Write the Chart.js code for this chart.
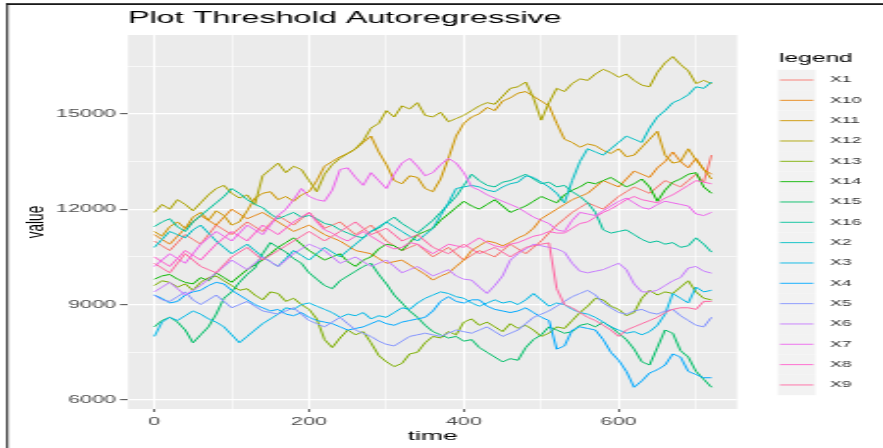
<!DOCTYPE html>
<html>
<head>
<meta charset="utf-8">
<script src="https://cdn.jsdelivr.net/npm/chart.js@4.4.1/dist/chart.umd.min.js"></script>
<style>
  html, body { margin: 0; padding: 0; background: #fff; }
</style>
</head>
<body>
<!-- drawn at 450px wide and stretched to 883px, like the reference -->
<canvas id="c" width="450" height="448" style="width:883px;height:448px"></canvas>
<script>
const time = [
  0, 10, 20, 30, 40, 50, 60, 70, 80, 90,
  100, 110, 120, 130, 140, 150, 160, 170, 180, 190,
  200, 210, 220, 230, 240, 250, 260, 270, 280, 290,
  300, 310, 320, 330, 340, 350, 360, 370, 380, 390,
  400, 410, 420, 430, 440, 450, 460, 470, 480, 490,
  500, 510, 520, 530, 540, 550, 560, 570, 580, 590,
  600, 610, 620, 630, 640, 650, 660, 670, 680, 690,
  700, 710, 720
];

const X1 = [
  11000, 10850, 10700, 10950, 11200, 11050, 10900, 11200, 11500, 11350,
  11200, 11400, 11600, 11450, 11300, 11550, 11800, 11650, 11500, 11700,
  11900, 11650, 11400, 11500, 11600, 11400, 11200, 11350, 11500, 11250,
  11000, 10850, 10700, 10800, 10900, 10700, 10500, 10650, 10800, 10600,
  10400, 10550, 10700, 10600, 10500, 10700, 10900, 10750, 10600, 10800,
  11000, 11250, 11500, 11700, 11900, 12050, 12200, 12100, 12000, 12200,
  12400, 12550, 12700, 12600, 12500, 12700, 12900, 12800, 12700, 12900,
  13100, 12850, 13700
];
const X10 = [
  11200, 11050, 10900, 11150, 11400, 11600, 11800, 11650, 11500, 11750,
  12000, 11850, 11700, 11800, 11900, 11750, 11600, 11450, 11300, 11400,
  11500, 11350, 11200, 11100, 11000, 10850, 10700, 10650, 10600, 10450,
  10300, 10350, 10400, 10250, 10100, 9950, 9770, 9900, 9990, 10200,
  10400, 10700, 10850, 11000, 10950, 10850, 10950, 11100, 11200, 11400,
  11700, 11850, 12000, 12150, 12300, 12400, 12500, 12700, 12900, 12800,
  12700, 12950, 13200, 13100, 13000, 13300, 13500, 13800, 13500, 13300,
  13600, 13250, 13100
];
const X11 = [
  11300, 11150, 11450, 11600, 11400, 11750, 11900, 11650, 11950, 11800,
  11500, 11600, 11950, 12350, 12500, 12550, 12300, 12400, 12250, 12450,
  12550, 12900, 13350, 13500, 13650, 13750, 13900, 14100, 14300, 13800,
  13400, 12900, 12800, 13050, 13000, 12650, 12550, 12950, 13600, 14300,
  14700, 14900, 15000, 15200, 15100, 15400, 15500, 15650, 15700, 15550,
  15400, 15250, 14700, 14200, 14100, 13950, 14050, 14000, 13850, 13750,
  13900, 13650, 13700, 13950, 14200, 14450, 13700, 13450, 13500, 13900,
  13550, 13250, 12950
];
const X12 = [
  11900, 12150, 12000, 12300, 12150, 11950, 12200, 12450, 12650, 12750,
  12500, 12350, 12450, 12150, 13050, 13250, 13450, 13150, 13350, 13250,
  12900, 12550, 13100, 13400, 13600, 13750, 13900, 14150, 14550, 14700,
  15100, 14900, 15250, 15150, 15350, 14950, 14900, 15050, 14750, 14850,
  14950, 15100, 15250, 15350, 15300, 15550, 15800, 15850, 16000, 15500,
  14800, 15350, 15800, 15700, 15950, 16100, 16050, 16250, 16400, 16300,
  16150, 16250, 16050, 15900, 15850, 16300, 16600, 16800, 16550, 16350,
  15950, 16050, 15950
];
const X13 = [
  9600, 9750, 9700, 9550, 9650, 9450, 9700, 9850, 9900, 9750,
  9600, 9450, 9500, 9300, 9150, 9400, 9350, 9100, 9200, 9000,
  8850, 8550, 7900, 7650, 7950, 8200, 8050, 8150, 7800, 7400,
  7200, 7050, 7150, 7450, 7500, 7800, 8000, 7950, 8150, 8050,
  8450, 8550, 8350, 8450, 8300, 8150, 8400, 8250, 8350, 8200,
  8000, 8100, 8300, 8250, 8500, 8750, 8950, 9200, 9150, 8950,
  8850, 8650, 8750, 9200, 9450, 9300, 9400, 9350, 9550, 9750,
  9400, 9200, 9150
];
const X14 = [
  9800, 9900, 9950, 9800, 9700, 9650, 9850, 9750, 10000, 9850,
  9700, 9900, 10100, 10250, 10400, 10600, 10800, 10950, 11100, 10900,
  10700, 10550, 10400, 10500, 10600, 10350, 10200, 10400, 10500, 10750,
  10900, 10850, 10700, 10950, 11200, 11300, 11400, 11650, 11850, 12050,
  12250, 12100, 12000, 12150, 12300, 12100, 11900, 12000, 12100, 12250,
  12400, 12300, 12200, 12450, 12600, 12700, 12850, 12800, 12900, 13000,
  12850, 12700, 12800, 12950, 12700, 12250, 12600, 12850, 12950, 13100,
  13150, 12700, 12500
];
const X15 = [
  8300, 8500, 8600, 8450, 8200, 7800, 8050, 8300, 8700, 9200,
  9400, 9700, 9950, 10150, 10600, 10950, 10800, 10650, 10450, 10300,
  10000, 9800, 9600, 9500, 9750, 9900, 10050, 10200, 10300, 9950,
  9650, 9300, 9050, 8800, 8600, 8350, 8150, 8050, 7950, 8000,
  7850, 7900, 7650, 7500, 7350, 7200, 7300, 7250, 7650, 7900,
  8050, 8300, 8200, 8100, 8150, 8350, 8400, 8300, 8450, 8300,
  8100, 7900, 7600, 7200, 7100, 7650, 8200, 8100, 7550, 7350,
  6900, 6650, 6400
];
const X16 = [
  11450, 11600, 11700, 11450, 11300, 11600, 11800, 12000, 12200, 12400,
  12650, 12500, 12300, 12150, 12050, 11850, 11700, 11800, 11900, 11750,
  11800, 11700, 11550, 11500, 11350, 11250, 11150, 11100, 11300, 11400,
  11600, 11750, 11550, 11400, 11250, 11450, 11650, 11900, 12150, 12400,
  12750, 13100, 12900, 12750, 12700, 12850, 12900, 13000, 13100, 12950,
  12800, 12850, 12700, 12750, 12550, 12400, 12200, 11900, 11350, 11250,
  11300, 11350, 11200, 11050, 10950, 11000, 10900, 10950, 10800, 10850,
  11100, 10900, 10650
];
const X2 = [
  10800, 11050, 11300, 11200, 11100, 11350, 11500, 11250, 11000, 10800,
  10600, 10750, 10900, 10700, 10500, 10350, 10200, 10450, 10700, 10550,
  10400, 10600, 10800, 10650, 10500, 10700, 10900, 11100, 11300, 11450,
  11600, 11450, 11300, 11150, 11000, 11200, 11400, 11800, 12200, 12650,
  12700, 12750, 12700, 12600, 12550, 12700, 12800, 12850, 13050, 13000,
  12850, 12700, 12500, 12200, 12900, 13500, 13900, 13800, 13700, 13900,
  14100, 14300, 14200, 14100, 14550, 14900, 15100, 15350, 15450, 15600,
  15850, 15800, 16000
];
const X3 = [
  8000, 8450, 8600, 8500, 8650, 8800, 8700, 8550, 8450, 8300,
  8050, 7800, 8000, 8200, 8400, 8550, 8700, 8900, 8850, 9000,
  9050, 8950, 8850, 8750, 8600, 8700, 8650, 8750, 8550, 8650,
  8600, 8750, 8900, 8850, 9050, 9200, 9300, 9400, 9350, 9250,
  9200, 9050, 8950, 9050, 9150, 9050, 9100, 9000, 9150, 9350,
  9150, 8950, 9050, 9000, 8850, 8750, 8700, 8600, 8450, 8300,
  8200, 8100, 8150, 8050, 8150, 8350, 8700, 9350, 9200, 9050,
  9550, 9400, 9450
];
const X4 = [
  9300, 9200, 9050, 9100, 9300, 9400, 9450, 9600, 9700, 9650,
  9450, 9300, 9150, 9000, 8900, 8800, 8850, 8700, 8650, 8750,
  8600, 8500, 8450, 8400, 8300, 8200, 8250, 8300, 8400, 8500,
  8400, 8350, 8450, 8500, 8550, 8600, 8800, 9100, 9250, 9100,
  9050, 9150, 9150, 8950, 8850, 8800, 8750, 8800, 8900, 8750,
  8600, 8500, 7600, 7700, 8200, 8300, 8250, 8200, 7900, 7500,
  7250, 6900, 6400, 6600, 6850, 6950, 7100, 7450, 7350, 6900,
  6800, 6700, 6700
];
const X5 = [
  9300, 9150, 9100, 9250, 9400, 9150, 9000, 9150, 9300, 9100,
  8900, 9000, 9100, 8950, 8800, 8750, 8700, 8800, 8900, 8700,
  8500, 8400, 8300, 8450, 8600, 8400, 8200, 8100, 8000, 7850,
  7750, 7700, 7850, 8000, 8050, 8100, 8050, 8000, 8100, 8200,
  8150, 8100, 8200, 8300, 8150, 8000, 8100, 8200, 8400, 8600,
  8700, 8800, 8950, 9100, 9250, 9350, 9450, 9300, 9050, 8900,
  8750, 8700, 8800, 8850, 8750, 8700, 8800, 8850, 8650, 8500,
  8350, 8300, 8600
];
const X6 = [
  9400, 9550, 9700, 9500, 9300, 9450, 9600, 9800, 10000, 10200,
  10400, 10250, 10100, 10300, 10500, 10350, 10200, 10400, 10600, 10750,
  10900, 10800, 10700, 10500, 10300, 10400, 10500, 10350, 10200, 10300,
  10400, 10200, 10000, 10100, 10200, 10050, 9900, 10000, 10100, 9900,
  9800, 9770, 9550, 9350, 9600, 9900, 10400, 10600, 10750, 10900,
  10850, 10800, 10750, 10650, 10300, 10050, 10000, 10050, 10100, 10200,
  10300, 10100, 9650, 9400, 9400, 9450, 9600, 9750, 9850, 10150,
  10200, 10050, 9990
];
const X7 = [
  10200, 10400, 10600, 10450, 10300, 10600, 10900, 11100, 11300, 11150,
  11000, 11250, 11500, 11350, 11200, 11500, 11800, 12000, 12300, 12650,
  12400, 12300, 12250, 12600, 13250, 13300, 13000, 12750, 13150, 12900,
  12650, 13100, 13450, 13600, 13350, 13050, 13150, 13400, 13600, 13450,
  13150, 12700, 12600, 12450, 12350, 12250, 12150, 12050, 11900, 11750,
  11650, 11550, 11350, 11300, 11650, 11900, 11850, 11800, 11950, 12100,
  12250, 12350, 12200, 12050, 12000, 12150, 12250, 12200, 12150, 12100,
  11850, 11800, 11900
];
const X8 = [
  10500, 10350, 10200, 10450, 10700, 10550, 10400, 10650, 10900, 11100,
  11300, 11150, 11000, 11250, 11500, 11350, 11200, 11400, 11600, 11750,
  11900, 11600, 11350, 11250, 11100, 11000, 11150, 11300, 11150, 11000,
  10850, 10750, 10800, 10950, 10900, 10750, 10600, 10750, 10900, 10850,
  10800, 10950, 11100, 10950, 10850, 10800, 10900, 10950, 11050, 11150,
  11200, 11300, 11250, 11250, 11400, 11550, 11600, 11750, 11900, 12000,
  12150, 12300, 12400, 12300, 12250, 12200, 12350, 12450, 12600, 12750,
  12900, 12850, 12800
];
const X9 = [
  10300, 10150, 10000, 10300, 10600, 10400, 10200, 10100, 10000, 10250,
  10500, 10650, 10800, 10600, 10400, 10550, 10700, 10850, 11000, 11150,
  11300, 11150, 11000, 11150, 11300, 11450, 11600, 11400, 11200, 11300,
  11400, 11200, 11000, 11100, 11200, 11000, 10800, 10700, 10600, 10750,
  10900, 10750, 10600, 10700, 10800, 10650, 10500, 10650, 10800, 10850,
  10900, 10940, 9500, 9000, 8900, 8750, 8600, 8500, 8350, 8200,
  8000, 8200, 8300, 8400, 8500, 8600, 8750, 8850, 8900, 8900,
  8850, 9100, 9100
];

// legend order as in the reference (factor levels sorted as text)
const seriesNames = ["X1", "X10", "X11", "X12", "X13", "X14", "X15", "X16",
                     "X2", "X3", "X4", "X5", "X6", "X7", "X8", "X9"];
const seriesValues = [X1, X10, X11, X12, X13, X14, X15, X16,
                      X2, X3, X4, X5, X6, X7, X8, X9];

const xMajor = [0, 200, 400, 600];
const xMinor = [100, 300, 500, 700];
const yMajor = [6000, 9000, 12000, 15000];
const yMinor = [7500, 10500, 13500, 16500];

// ggplot default hue palette (polar Luv, c=100, l=65)
function hcl(h, c, l) {
    const WX = 95.047, WY = 100.0, WZ = 108.883;
    const un = 4 * WX / (WX + 15 * WY + 3 * WZ);
    const vn = 9 * WY / (WX + 15 * WY + 3 * WZ);
    const hr = h * Math.PI / 180;
    const U = c * Math.cos(hr), V = c * Math.sin(hr);
    const Y = WY * (l > 7.999592 ? Math.pow((l + 16) / 116, 3) : l / 903.3);
    const u = U / (13 * l) + un, v = V / (13 * l) + vn;
    const X = 9.0 * Y * u / (4 * v);
    const Z = -X / 3 - 5 * Y + 3 * Y / v;
    const gam = t => t > 0.00304 ? 1.055 * Math.pow(t, 1 / 2.4) - 0.055 : 12.92 * t;
    const rgb = [
        gam((3.240479 * X - 1.537150 * Y - 0.498535 * Z) / WY),
        gam((-0.969256 * X + 1.875992 * Y + 0.041556 * Z) / WY),
        gam((0.055648 * X - 0.204043 * Y + 1.057311 * Z) / WY)
    ];
    return "#" + rgb.map(x => {
        const n = Math.round(Math.min(1, Math.max(0, x)) * 255);
        return n.toString(16).padStart(2, "0");
    }).join("");
}

const hueColors = seriesNames.map((_, i) => hcl(15 + i * 360 / seriesNames.length, 100, 65));

const FONT = '"Liberation Sans", Arial, sans-serif';
Chart.defaults.font.family = FONT;

const panelBg = {
    id: "panelBg",
    beforeDraw(chart) {
        const { ctx, chartArea: a } = chart;
        ctx.save();
        ctx.fillStyle = "#ffffff";
        ctx.fillRect(0, 0, chart.width, chart.height);
        ctx.fillStyle = "#EBEBEB";
        ctx.fillRect(a.left, a.top, a.right - a.left, a.bottom - a.top);
        ctx.restore();
    }
};

const sideLegend = {
    id: "sideLegend",
    afterDraw(chart) {
        const ctx = chart.ctx;
        ctx.save();
        // screenshot frame
        ctx.fillStyle = "#1a1a1a";
        ctx.fillRect(3.2, 3.2, 1, chart.height);
        ctx.fillRect(3.2, 3.2, chart.width, 1.8);

        ctx.textBaseline = "middle";
        ctx.textAlign = "left";
        ctx.fillStyle = "#000000";
        ctx.font = "12.5px " + FONT;
        ctx.fillText("legend", 397, 58.5);

        chart.data.datasets.forEach((ds, i) => {
            const y = 80 + i * 20.33;
            ctx.fillStyle = "#F2F2F2";
            ctx.fillRect(396.5, y - 10.2, 19, 20.4);
            ctx.strokeStyle = ds.borderColor;
            ctx.lineWidth = 0.9;
            ctx.beginPath();
            ctx.moveTo(397.5, y);
            ctx.lineTo(414.5, y);
            ctx.stroke();
            ctx.fillStyle = "#333333";
            ctx.font = "9px " + FONT;
            ctx.fillText(ds.label, 423, y);
        });
        ctx.restore();
    }
};

const ctx = document.getElementById("c").getContext("2d");

new Chart(ctx, {
    type: "line",
    data: {
        datasets: seriesNames.map((name, i) => ({
            label: name,
            data: time.map((t, k) => ({ x: t, y: seriesValues[i][k] })),
            borderColor: hueColors[i],
            borderWidth: 1,
            pointRadius: 0,
            tension: 0,
            fill: false,
            order: seriesNames.length - i
        }))
    },
    options: {
        responsive: false,
        devicePixelRatio: 1,
        animation: false,
        layout: {
            padding: { left: 0, right: 74.4, top: 0, bottom: 0 }
        },
        plugins: {
            legend: { display: false },
            tooltip: { enabled: false },
            title: {
                display: true,
                text: "Plot Threshold Autoregressive",
                align: "start",
                fullSize: false,
                color: "#000000",
                font: { size: 16.5, weight: "normal" },
                padding: { top: 9, bottom: 6.2 }
            }
        },
        scales: {
            x: {
                type: "linear",
                min: -34,
                max: 753,
                afterBuildTicks: s => {
                    s.ticks = xMajor.concat(xMinor).sort((a, b) => a - b).map(v => ({ value: v }));
                },
                afterFit: s => { s.height = 39; },
                border: { display: false },
                grid: {
                    color: "#FFFFFF",
                    lineWidth: c => xMajor.includes(c.tick.value) ? 1.1 : 0.55,
                    tickColor: c => xMajor.includes(c.tick.value) ? "#333333" : "rgba(0,0,0,0)",
                    tickLength: 3,
                    tickWidth: 0.8
                },
                ticks: {
                    autoSkip: false,
                    maxRotation: 0,
                    padding: 3,
                    color: "#4D4D4D",
                    font: { size: 11 },
                    callback: v => xMajor.includes(v) ? String(v) : ""
                },
                title: {
                    display: true,
                    text: "time",
                    color: "#000000",
                    font: { size: 13.5 },
                    padding: { top: 0, bottom: 4 }
                }
            },
            y: {
                type: "linear",
                min: 5717,
                max: 17478,
                afterBuildTicks: s => {
                    s.ticks = yMajor.concat(yMinor).sort((a, b) => a - b).map(v => ({ value: v }));
                },
                afterFit: s => { s.width = 65.2; },
                border: { display: false },
                grid: {
                    color: "#FFFFFF",
                    lineWidth: c => yMajor.includes(c.tick.value) ? 1.3 : 0.65,
                    tickColor: c => yMajor.includes(c.tick.value) ? "#333333" : "rgba(0,0,0,0)",
                    tickLength: 4,
                    tickWidth: 0.9
                },
                ticks: {
                    autoSkip: false,
                    padding: 2,
                    color: "#4D4D4D",
                    font: { size: 11 },
                    callback: v => yMajor.includes(v) ? String(v) : ""
                },
                title: {
                    display: true,
                    text: "value",
                    color: "#000000",
                    font: { size: 13.5 },
                    padding: { top: 10.6, bottom: 0 }
                }
            }
        }
    },
    plugins: [panelBg, sideLegend]
});
</script>
</body>
</html>
